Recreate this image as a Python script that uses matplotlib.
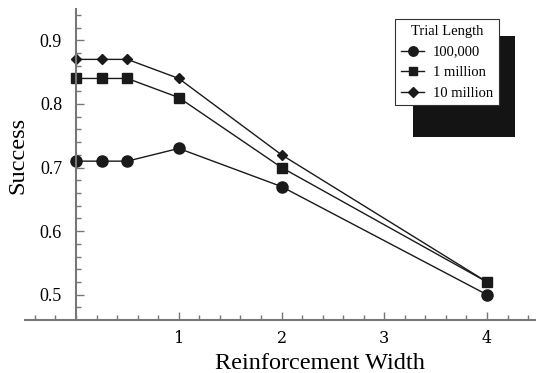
import numpy as np
import matplotlib.pyplot as plt
from matplotlib.patches import Rectangle
from matplotlib.ticker import FixedLocator

# Data
widths = [0, 0.25, 0.5, 1, 2, 4]
success_100k = [0.71, 0.71, 0.71, 0.73, 0.67, 0.50]
success_1m = [0.84, 0.84, 0.84, 0.81, 0.70, 0.52]
success_10m = [0.87, 0.87, 0.87, 0.84, 0.72, 0.52]
series_labels = ['100,000', '1 million', '10 million']
x_ticks = [1, 2, 3, 4]
y_ticks = [0.5, 0.6, 0.7, 0.8, 0.9]
x_axis_y = 0.46

plt.rcParams['font.family'] = 'Liberation Serif'

W, H = 538, 373
fig = plt.figure(figsize=(W / 100, H / 100), dpi=100)
ax = fig.add_axes([0, 0, 1, 1])

# pixel mapping: x=0 at 76px, 102.75 px/unit ; y=0.9 at 40.3px, 636 px/unit
x0_px, xs = 76, 102.75
ax.set_xlim(-x0_px / xs, (W - x0_px) / xs)
ax.set_ylim(0.5 - (H - 294.7) / 636, 0.9 + 40.3 / 636)
ax.patch.set_alpha(0)

line_kw = dict(color='#1a1a1a', linewidth=1.0)
ax.plot(widths, success_100k, marker='o', markersize=8, label=series_labels[0], **line_kw)
ax.plot(widths, success_1m, marker='s', markersize=7.5, label=series_labels[1], **line_kw)
ax.plot(widths, success_10m, marker='D', markersize=5.5, label=series_labels[2], **line_kw)

axis_color = '#777777'
for side in ['top', 'right']:
    ax.spines[side].set_visible(False)
ax.spines['left'].set_position(('data', 0))
ax.spines['bottom'].set_position(('data', x_axis_y))
ax.spines['left'].set_bounds(x_axis_y, 0.95)
ax.spines['bottom'].set_bounds(-0.5, 4.47)
for side in ['left', 'bottom']:
    ax.spines[side].set_color(axis_color)
    ax.spines[side].set_linewidth(1.5)

ax.set_xticks(x_ticks)
ax.set_yticks(y_ticks)
ax.xaxis.set_minor_locator(FixedLocator(np.round(np.arange(-0.4, 4.45, 0.2), 2)))
ax.yaxis.set_minor_locator(FixedLocator(np.round(np.arange(0.48, 0.95, 0.02), 2)))
ax.tick_params(axis='both', which='major', direction='in', length=5.5, width=1,
               color=axis_color, labelsize=13)
ax.tick_params(axis='both', which='minor', direction='in', length=3.5, width=1,
               color=axis_color)
ax.tick_params(axis='y', which='major', pad=10)
# x digits drawn with DejaVu Serif (Liberation Serif dropped some of them here)
ax.tick_params(axis='x', which='major', pad=7, labelsize=11.5,
               labelfontfamily='DejaVu Serif')

# axis titles placed in axes coordinates
ax.text(320 / W, 4 / H, 'Reinforcement Width', transform=ax.transAxes,
        fontsize=17.5, ha='center', va='baseline')
ax.text(18 / W, 1 - 155 / H, 'Success', transform=ax.transAxes,
        fontsize=17.5, rotation=90, ha='center', va='center')

# legend with hard black shadow
shadow = Rectangle((412.7 / W, 1 - 137.3 / H), (515 - 412.7) / W,
                   (137.3 - 36) / H, transform=fig.transFigure,
                   facecolor='#141414', edgecolor='none', zorder=-1)
fig.patches.append(shadow)
leg = ax.legend(title='Trial Length', loc='upper left',
                bbox_to_anchor=(395 / W, 1 - 19.3 / H), bbox_transform=fig.transFigure,
                borderaxespad=0, fontsize=10.5, title_fontsize=10.5,
                fancybox=False, framealpha=1, edgecolor='#333333',
                handlelength=1.6, handletextpad=0.6, labelspacing=0.5,
                borderpad=0.4, markerscale=0.85)
leg.get_frame().set_linewidth(0.8)
leg.set_zorder(5)

fig.savefig('out.png', dpi=100)
